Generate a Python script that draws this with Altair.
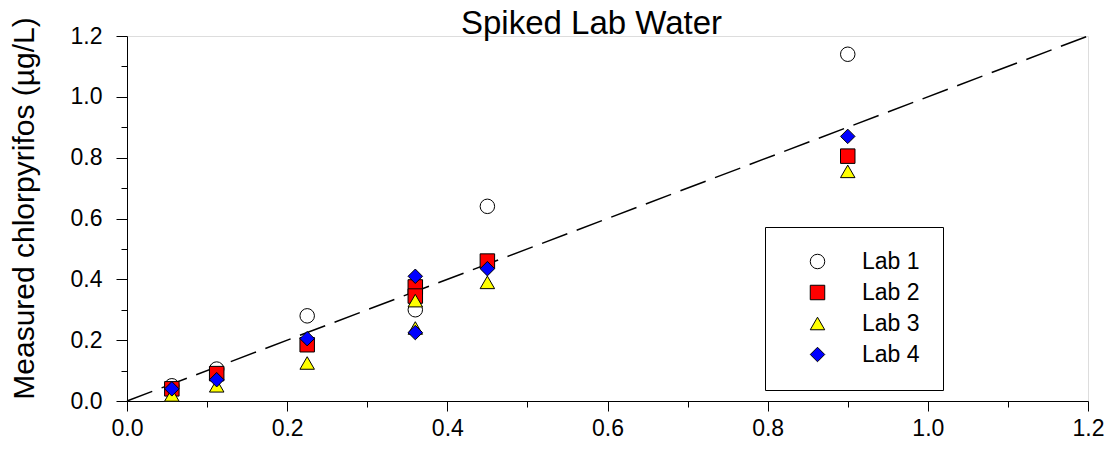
import altair as alt
import pandas as pd

# ---- data ----
labs = ["Lab 1", "Lab 2", "Lab 3", "Lab 4"]
lab1_x = [0.056, 0.112, 0.225, 0.36, 0.45, 0.9]
lab1_y = [0.05, 0.105, 0.28, 0.30, 0.64, 1.14]
lab2_x = [0.056, 0.112, 0.225, 0.36, 0.36, 0.45, 0.9]
lab2_y = [0.04, 0.09, 0.185, 0.375, 0.345, 0.46, 0.805]
lab3_x = [0.056, 0.112, 0.225, 0.36, 0.36, 0.45, 0.9]
lab3_y = [0.02, 0.05, 0.125, 0.33, 0.24, 0.39, 0.755]
lab4_x = [0.056, 0.112, 0.225, 0.36, 0.36, 0.45, 0.9]
lab4_y = [0.04, 0.07, 0.205, 0.41, 0.225, 0.435, 0.87]
line_x = [0.0, 1.2]          # 1:1 reference line
major_ticks = [0.0, 0.2, 0.4, 0.6, 0.8, 1.0, 1.2]
minor_ticks = [0.1, 0.3, 0.5, 0.7, 0.9, 1.1]

rows = []
for name, xs, ys in zip(labs, [lab1_x, lab2_x, lab3_x, lab4_x], [lab1_y, lab2_y, lab3_y, lab4_y]):
    for a, b in zip(xs, ys):
        rows.append({"lab": name, "spiked": a, "measured": b})
pts = pd.DataFrame(rows)
line_df = pd.DataFrame({"spiked": line_x, "measured": line_x})

FONT = "Liberation Sans"
dom = [0, 1.2]

x_major = alt.Axis(orient="bottom", values=major_ticks, format=".1f", title=None,
                   tickSize=10, labelPadding=6, labelFontSize=23, labelFont=FONT,
                   labelColor="black", domainColor="black", tickColor="black",
                   grid=False, labelFlush=False)
y_major = alt.Axis(orient="left", values=major_ticks, format=".1f",
                   title="Measured chlorpyrifos (µg/L)", titleFontSize=30, titleFont=FONT,
                   titleFontWeight="normal", titleColor="black", titleX=-94, titleY=172,
                   titleBaseline="alphabetic", titleAngle=270,
                   tickSize=11, labelPadding=14, labelFontSize=23, labelFont=FONT,
                   labelColor="black", domainColor="black", tickColor="black",
                   grid=False, labelFlush=False)
x_minor = alt.Axis(orient="bottom", values=minor_ticks, title=None, labels=False,
                   domain=False, tickSize=6, tickColor="black", grid=False)
y_minor = alt.Axis(orient="left", values=minor_ticks, title=None, labels=False,
                   domain=False, tickSize=6, tickColor="black", grid=False)

line = alt.Chart(line_df).mark_line(color="black", strokeWidth=1.5, strokeDash=[27, 10]).encode(
    x=alt.X("spiked:Q", scale=alt.Scale(domain=dom, nice=False, zero=False), axis=x_major),
    y=alt.Y("measured:Q", scale=alt.Scale(domain=dom, nice=False, zero=False), axis=y_major),
)

legend_props = dict(title=None, orient="none", legendX=638, legendY=191)

points = alt.Chart(pts).mark_point(filled=True, stroke="black", strokeWidth=1, opacity=1).encode(
    x=alt.X("spiked:Q", scale=alt.Scale(domain=dom, nice=False, zero=False), axis=x_minor),
    y=alt.Y("measured:Q", scale=alt.Scale(domain=dom, nice=False, zero=False), axis=y_minor),
    fill=alt.Fill("lab:N", scale=alt.Scale(domain=labs, range=["white", "red", "yellow", "blue"]),
                  legend=alt.Legend(**legend_props,
                                    strokeColor="black", fillColor="white", padding=23,
                                    symbolOffset=18, labelOffset=33, rowPadding=7,
                                    labelFontSize=23, labelFont=FONT, labelColor="black",
                                    symbolStrokeColor="black", symbolStrokeWidth=1)),
    shape=alt.Shape("lab:N", scale=alt.Scale(domain=labs, range=["circle", "square", "triangle-up", "diamond"]),
                    legend=alt.Legend(**legend_props)),
    size=alt.Size("lab:N", scale=alt.Scale(domain=labs, range=[210, 210, 240, 420]),
                  legend=alt.Legend(**legend_props)),
    order=alt.Order("lab:N"),
)

chart = alt.layer(line, points).resolve_scale(x="independent", y="independent").properties(
    width=961, height=365,
    title=alt.TitleParams("Spiked Lab Water", fontSize=33, font=FONT, fontWeight="normal",
                          color="black", dx=-16, dy=22, offset=-2),
    autosize=alt.AutoSizeParams(type="none"),
    padding={"left": 119, "top": 28, "right": 17, "bottom": 40},
).configure_view(stroke=None).configure(background="white")

chart.save("out.html", embed_options={"renderer": "svg", "actions": False})
